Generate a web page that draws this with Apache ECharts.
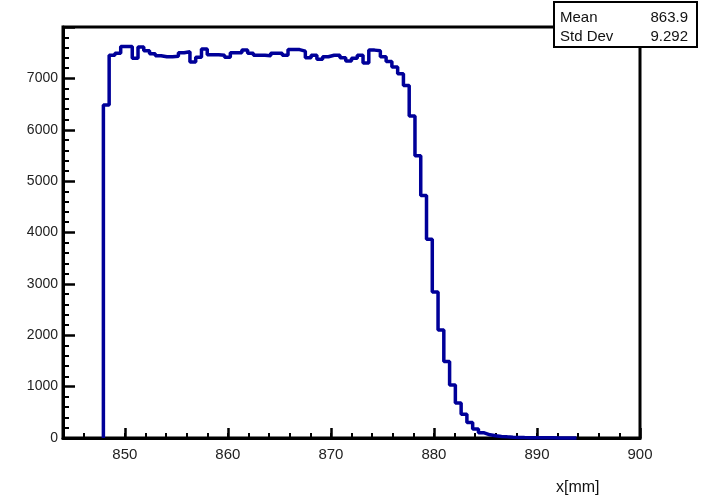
<!DOCTYPE html>
<html><head><meta charset="utf-8">
<script src="https://cdn.jsdelivr.net/npm/echarts@6/dist/echarts.min.js"></script>
<style>html,body{margin:0;padding:0;background:#fff}#c{width:702px;height:504px}</style>
</head><body><div id="c"></div>
<script>
// Histogram binning (100 bins from 844 to 900)
const binStart = 844;
const binWidth = 0.56;
const firstBin = 7;
// counts of bins starting at firstBin
const counts = [
  6480, 7450, 7490, 7620, 7620, 7390, 7610, 7540, 7480, 7440,
  7420, 7420, 7430, 7500, 7520, 7320, 7410, 7570, 7460, 7460,
  7450, 7410, 7500, 7500, 7550, 7490, 7450, 7450, 7440, 7490,
  7490, 7450, 7560, 7560, 7530, 7400, 7450, 7370, 7420, 7450,
  7450, 7400, 7340, 7390, 7450, 7300, 7550, 7540, 7420, 7330,
  7220, 7090, 6860, 6270, 5495, 4720, 3870, 2840, 2100, 1490,
  1030, 680, 460, 300, 175, 100, 62, 42, 30, 22,
  16, 12, 9, 7, 5, 4, 3, 3, 2, 2,
  1, 1
];
const xMajorTicks = [850, 860, 870, 880, 890, 900];
const yTicks = [0, 1000, 2000, 3000, 4000, 5000, 6000, 7000];
const statNames = ['Mean', 'Std Dev'];
const statValues = ['863.9', '9.292'];
const xTitle = 'x[mm]';

const xMin = 844, xMax = 900, yMax = 8000;

const pts = [[binStart + firstBin * binWidth, 0]];
counts.forEach((c, i) => pts.push([binStart + (firstBin + i) * binWidth, c]));
pts.push([binStart + (firstBin + counts.length) * binWidth, 0]);

const chart = echarts.init(document.getElementById('c'), null, {renderer: 'canvas'});
const font = 'Liberation Sans, Arial, Helvetica, sans-serif';
chart.setOption({
  animation: false,
  backgroundColor: '#fff',
  grid: {left: 63, right: 62, top: 27, bottom: 66, show: true, borderColor: '#000', borderWidth: 3, backgroundColor: 'transparent'},
  xAxis: [
    {
      type: 'value', min: xMin, max: xMax, interval: 2, position: 'bottom',
      axisLine: {show: true, onZero: false, lineStyle: {color: '#000', width: 3}},
      axisTick: {show: true, inside: true, length: 5, lineStyle: {color: '#000', width: 2}},
      axisLabel: {show: false},
      splitLine: {show: false}
    },
    {
      type: 'value', min: 0, max: xMax - xMin, interval: 10, inverse: true, position: 'bottom',
      axisLine: {show: false, onZero: false},
      axisTick: {show: true, inside: true, length: 10, lineStyle: {color: '#000', width: 2.5}},
      axisLabel: {
        show: true, margin: 9, fontSize: 15, color: '#222', fontFamily: font, showMaxLabel: false,
        formatter: v => xMajorTicks.includes(xMax - v) ? String(xMax - v) : ''
      },
      splitLine: {show: false}
    }
  ],
  yAxis: {
    type: 'value', min: 0, max: yMax, interval: 1000, position: 'left',
    axisLine: {show: true, onZero: false, lineStyle: {color: '#000', width: 3}},
    axisTick: {show: true, inside: true, length: 12, lineStyle: {color: '#000', width: 2.5}},
    minorTick: {show: true, splitNumber: 5, length: 6, lineStyle: {color: '#000', width: 2}},
    axisLabel: {
      show: true, margin: 5, fontSize: 14, color: '#222', fontFamily: font, showMaxLabel: false,
      formatter: v => yTicks.includes(v) ? String(v) : ''
    },
    splitLine: {show: false}
  },
  series: [{
    type: 'line', xAxisIndex: 0, step: 'end', data: pts, symbol: 'none', clip: false,
    lineStyle: {color: '#000099', width: 3.5}, z: 5
  }],
  graphic: [
    {type: 'rect', left: 553, top: 1, shape: {width: 143, height: 45}, style: {fill: '#fff', stroke: '#000', lineWidth: 2}, z: 100},
    {type: 'text', left: 560, top: 10, style: {text: statNames[0], font: '15px ' + font, fill: '#111'}, z: 101},
    {type: 'text', left: 560, top: 29, style: {text: statNames[1], font: '15px ' + font, fill: '#111'}, z: 101},
    {type: 'text', right: 702 - 688, top: 10, style: {text: statValues[0], font: '15px ' + font, fill: '#111', textAlign: 'right'}, z: 101},
    {type: 'text', right: 702 - 688, top: 29, style: {text: statValues[1], font: '15px ' + font, fill: '#111', textAlign: 'right'}, z: 101},
    {type: 'text', left: 556, top: 480, style: {text: xTitle, font: '16px ' + font, fill: '#111'}, z: 101}
  ]
});
</script></body></html>
